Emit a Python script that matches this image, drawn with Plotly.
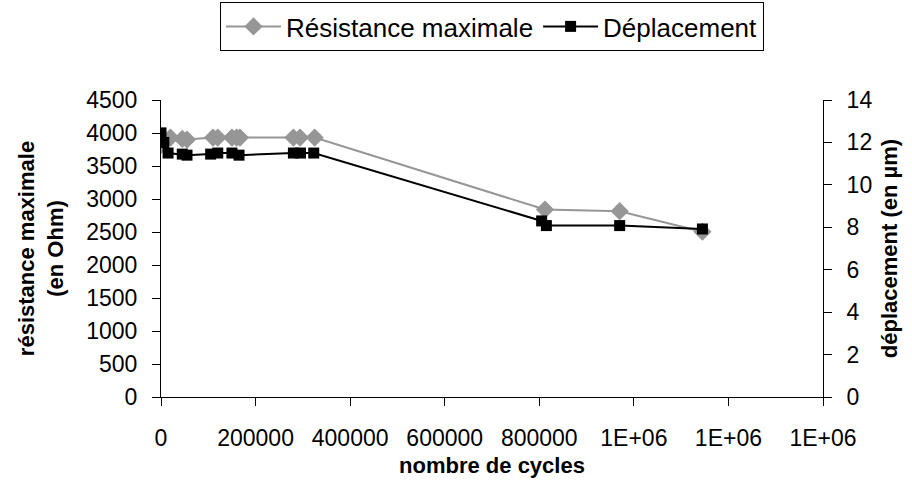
import plotly.graph_objects as go

# Résistance maximale (Ohm) vs nombre de cycles
cycles_res = [0, 20000, 45000, 55000, 110000, 120000, 150000, 160000, 167000,
              280000, 294000, 325000, 812000, 970000, 1145000]
resistance = [3820, 3930, 3910, 3900, 3930, 3930, 3930, 3930, 3930,
              3930, 3930, 3930, 2840, 2815, 2505]

# Déplacement (µm) vs nombre de cycles
cycles_dep = [0, 6000, 15000, 45000, 55000, 105000, 120000, 150000, 165000,
              280000, 295000, 323000, 805000, 815000, 970000, 1145000]
deplacement = [12.45, 12.0, 11.5, 11.45, 11.4, 11.45, 11.5, 11.5, 11.4,
               11.5, 11.5, 11.5, 8.3, 8.08, 8.08, 7.92]

x_ticks = [0, 200000, 400000, 600000, 800000, 1000000, 1200000, 1400000]
x_ticktext = ["0", "200000", "400000", "600000", "800000", "1E+06", "1E+06", "1E+06"]

FONT = "Liberation Sans, Arial, sans-serif"
GREY = "#969696"
TICK_SIZE = 23
TITLE_SIZE = 22

fig = go.Figure()
fig.add_trace(go.Scatter(
    x=cycles_res, y=resistance, name="Résistance maximale",
    mode="lines+markers",
    line=dict(color=GREY, width=2),
    marker=dict(symbol="diamond", size=14, color=GREY),
    yaxis="y",
))
fig.add_trace(go.Scatter(
    x=cycles_dep, y=deplacement, name="Déplacement",
    mode="lines+markers",
    line=dict(color="black", width=2),
    marker=dict(symbol="square", size=11, color="black"),
    yaxis="y2",
))

axis_common = dict(showgrid=False, zeroline=False, showline=True,
                   linecolor="black", linewidth=1, tickcolor="black",
                   tickfont=dict(family=FONT, size=TICK_SIZE, color="black"))

fig.update_layout(
    width=912, height=497,
    margin=dict(l=161, r=89, t=100, b=100, autoexpand=False),
    paper_bgcolor="white", plot_bgcolor="white",
    font=dict(family=FONT, color="black"),
    xaxis=dict(range=[0, 1400000], tickvals=x_ticks, ticktext=x_ticktext,
               ticks="outside", ticklen=8, ticklabelstandoff=12,
               title=dict(text="<b>nombre de cycles</b>",
                          font=dict(family=FONT, size=TITLE_SIZE), standoff=8),
               **axis_common),
    yaxis=dict(range=[0, 4500], dtick=500, tick0=0, ticks="outside", ticklen=8,
               ticklabelstandoff=10,
               title=dict(text="<b>résistance maximale<br>(en Ohm)</b>",
                          font=dict(family=FONT, size=TITLE_SIZE), standoff=16),
               **axis_common),
    yaxis2=dict(range=[0, 14], dtick=2, tick0=0, overlaying="y", side="right",
                ticks="outside", ticklen=8, ticklabelstandoff=10,
                title=dict(text="<b>déplacement (en µm)</b>",
                           font=dict(family=FONT, size=TITLE_SIZE), standoff=10),
                **axis_common),
    # inner half of the right-hand tick marks (cross ticks)
    yaxis3=dict(range=[0, 14], dtick=2, tick0=0, overlaying="y", side="right",
                ticks="inside", ticklen=8, showticklabels=False,
                showgrid=False, zeroline=False, showline=False,
                tickcolor="black"),
    legend=dict(orientation="h", x=0.5, xanchor="center", y=1.33, yanchor="top",
                bordercolor="black", borderwidth=1, bgcolor="white",
                font=dict(family=FONT, size=26), itemwidth=55,
                tracegroupgap=0),
    showlegend=True,
)

fig.write_html("out.html")
